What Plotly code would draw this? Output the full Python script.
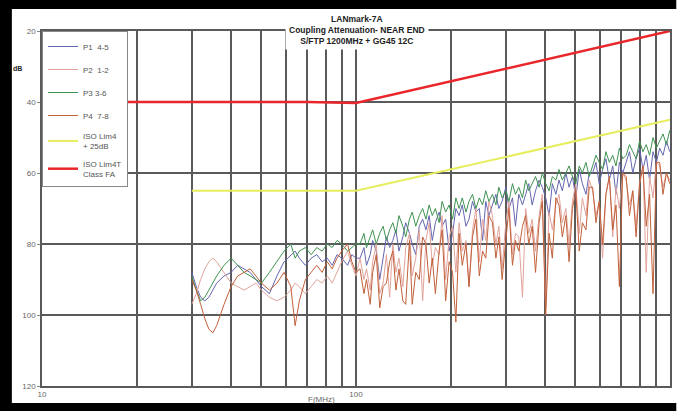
import plotly.graph_objects as go

# ---------------- data ----------------
freq = [30, 31, 32, 33, 34, 35, 36, 38, 40, 42, 44, 46, 48, 50, 53, 56, 59, 62, 64, 66,
        69, 72, 75, 78, 81, 84, 87, 90, 94, 97, 100,
        103, 106, 108, 111, 113, 116, 119, 122, 125, 128,
        131, 134, 137, 141, 144, 148, 151, 155, 159, 163,
        167, 171, 175, 179, 184, 188, 193, 198, 203, 208,
        213, 218, 224, 229, 235, 241, 247, 253, 259, 265,
        272, 279, 285, 292, 300, 307, 315, 322, 330, 339,
        347, 355, 364, 373, 383, 392, 402, 412, 422, 433,
        443, 454, 466, 477, 489, 501, 514, 526, 540, 553,
        567, 581, 595, 610, 625, 641, 657, 673, 690, 707,
        725, 743, 761, 780, 800, 820, 840, 861, 883, 905,
        927, 950, 974, 998]

p1_45 = [88, 92, 95, 96, 95, 93, 91, 89, 88, 86, 87, 88, 90, 92, 94, 89, 85, 83, 82, 84,
         86, 84, 83, 85, 84, 86, 83, 84, 86, 83, 84,
         84, 81, 86, 83, 79, 82, 90, 84, 78, 81,
         79, 76, 82, 78, 74, 77, 80, 83, 75, 73,
         76, 72, 79, 74, 71, 75, 73, 82, 77, 70,
         72, 69, 75, 73, 68, 71, 70, 79, 68, 72,
         69, 66, 70, 68, 64, 70, 67, 75, 66, 69,
         66, 63, 69, 65, 62, 64, 67, 72, 63, 66,
         62, 65, 60, 64, 61, 67, 59, 63, 66, 60,
         60, 57, 63, 59, 56, 62, 58, 66, 57, 60,
         57, 54, 60, 56, 53, 59, 55, 62, 54, 57,
         53, 55, 51, 54]

p2_12 = [97, 94, 90, 87, 85, 84, 85, 88, 91, 92, 93, 92, 91, 93, 95, 96, 95, 93, 91, 92,
         94, 92, 90, 91, 89, 91, 88, 85, 82, 86, 89,
         84, 90, 87, 93, 85, 80, 94, 91, 83, 95,
         80, 88, 84, 92, 81, 77, 89, 84, 76, 96,
         79, 74, 86, 81, 83, 72, 90, 78, 75, 88,
         74, 82, 79, 92, 76, 70, 85, 73, 79, 68,
         72, 80, 75, 87, 74, 68, 83, 77, 78, 95,
         70, 77, 73, 82, 72, 66, 98, 71, 76, 69,
         66, 74, 70, 80, 68, 63, 77, 67, 72, 62,
         65, 72, 68, 84, 66, 61, 78, 64, 70, 60,
         62, 69, 65, 75, 63, 58, 88, 61, 67, 57,
         58, 64, 60, 62]

p3_36 = [89, 93, 96, 95, 93, 91, 89, 86, 84, 86, 88, 89, 90, 91, 88, 85, 82, 80, 84, 82,
         81, 83, 81, 82, 80, 81, 79, 80, 82, 81, 80,
         80, 77, 81, 78, 76, 80, 77, 75, 79, 76,
         74, 77, 72, 75, 78, 73, 71, 75, 72, 70,
         73, 69, 72, 70, 74, 68, 71, 69, 73, 67,
         70, 67, 71, 68, 66, 70, 67, 69, 65, 68,
         66, 69, 64, 67, 65, 68, 63, 66, 64, 67,
         62, 65, 63, 61, 64, 60, 63, 65, 61, 62,
         59, 62, 60, 58, 61, 63, 58, 60, 57, 61,
         58, 55, 57, 59, 54, 57, 55, 58, 53, 56,
         55, 52, 54, 56, 51, 54, 52, 55, 50, 53,
         51, 49, 52, 48]

p4_78 = [90, 93, 97, 101, 104, 105, 103, 97, 92, 89, 88, 87, 89, 91, 93, 91, 88, 92, 103, 96,
         90, 88, 86, 88, 85, 87, 84, 82, 80, 85, 88,
         87, 94, 90, 97, 88, 83, 98, 92, 91, 85,
         82, 93, 87, 96, 97, 79, 97, 88, 90, 78,
         80, 91, 84, 94, 82, 76, 96, 85, 88, 102,
         77, 86, 80, 92, 78, 73, 89, 82, 84, 72,
         74, 84, 78, 90, 79, 70, 86, 79, 82, 75,
         72, 80, 75, 88, 74, 68, 100, 77, 84, 67,
         69, 78, 72, 85, 70, 65, 82, 74, 76, 64,
         64, 74, 68, 80, 66, 61, 76, 69, 92, 60,
         61, 72, 65, 78, 63, 58, 75, 66, 94, 57,
         57, 66, 60, 63]

iso_25_freq = [30, 100, 1000]
iso_25_db = [65, 65, 45]
iso_fa_freq = [10, 70, 100, 1000]
iso_fa_db = [40, 40, 40.3, 20]

x_tickvals = [10, 20, 30, 40, 50, 60, 70, 80, 90, 100, 200, 300, 400, 500, 600, 700, 800, 900, 1000]
x_ticktext = ["10", "", "", "", "", "", "", "", "", "100", "", "", "", "", "", "", "", "", "1000"]
y_tickvals = [20, 40, 60, 80, 100, 120]

title_lines = ["LANmark-7A", "Coupling Attenuation- NEAR END", "S/FTP 1200MHz + GG45 12C"]

# ---------------- figure ----------------
fig = go.Figure()

series = [
    ("P1  4-5", p1_45, "#6466b0"),
    ("P2  1-2", p2_12, "#e2a49c"),
    ("P3 3-6", p3_36, "#3f9352"),
    ("P4  7-8", p4_78, "#c2603a"),
]
for i, (name, vals, col) in enumerate(series):
    fig.add_trace(go.Scatter(x=freq, y=vals, mode="lines", name=name,
                             legendgroup=f"g{i}",
                             line=dict(color=col, width=1)))

fig.add_trace(go.Scatter(x=iso_25_freq, y=iso_25_db, mode="lines",
                         name="ISO Lim4<br>+ 25dB", legendgroup="g4",
                         line=dict(color="#e6ee5e", width=2)))
fig.add_trace(go.Scatter(x=iso_fa_freq, y=iso_fa_db, mode="lines",
                         name="ISO Lim4T<br>Class FA", legendgroup="g5",
                         line=dict(color="#e8262c", width=2.5)))

grid_col = "#5a5a5a"
fig.update_xaxes(type="log", range=[1, 3], tickvals=x_tickvals, ticktext=x_ticktext,
                 showgrid=True, gridcolor=grid_col, gridwidth=1.5,
                 showline=True, linecolor=grid_col, linewidth=1.5, mirror=True,
                 ticks="", tickfont=dict(size=8, color="#666666"), zeroline=False)
fig.update_yaxes(range=[120, 20], tickvals=y_tickvals,
                 showgrid=True, gridcolor=grid_col, gridwidth=1.5,
                 showline=True, linecolor=grid_col, linewidth=1.5, mirror=True,
                 ticks="outside", ticklen=3, tickcolor="#888888",
                 tickfont=dict(size=8, color="#666666"), zeroline=False)

fig.update_layout(
    width=677, height=411,
    margin=dict(l=42, r=5, t=31, b=25),
    paper_bgcolor="white", plot_bgcolor="white",
    font=dict(family="Liberation Sans, Arial, sans-serif"),
    showlegend=True,
    legend=dict(x=0, y=1, xanchor="left", yanchor="top",
                bgcolor="white", bordercolor="#888888", borderwidth=1,
                font=dict(size=8, color="#555555"),
                tracegroupgap=4, itemwidth=30),
    annotations=[
        dict(text="<b>" + "<br>".join(title_lines) + "</b>", xref="paper", yref="paper",
             x=0.502, y=1.059, xanchor="center", yanchor="top", showarrow=False,
             bgcolor="white", borderpad=3,
             font=dict(size=8.5, color="#222222", family="Liberation Sans, Arial, sans-serif"),
             align="center"),
        dict(text="<b>dB</b>", xref="paper", yref="paper", x=-0.05, y=0.91,
             showarrow=False, font=dict(size=7, color="#222222")),
        dict(text="F(MHz)", xref="paper", yref="paper", x=0.445, y=-0.02,
             yanchor="top", showarrow=False, font=dict(size=8, color="#666666")),
    ],
    shapes=[
        dict(type="rect", xref="paper", yref="paper", x0=-0.07, x1=1.01, y0=1.062, y1=1.09,
             fillcolor="black", line=dict(width=0), layer="above"),
        dict(type="rect", xref="paper", yref="paper", x0=-0.07, x1=-0.048, y0=-0.075, y1=1.09,
             fillcolor="black", line=dict(width=0), layer="above"),
        dict(type="rect", xref="paper", yref="paper", x0=-0.07, x1=1.01, y0=-0.075, y1=-0.048,
             fillcolor="black", line=dict(width=0), layer="above"),
    ],
)

fig.write_html("out.html", config={"displayModeBar": False},
               post_script="document.body.style.margin='0';document.body.style.padding='0';")
